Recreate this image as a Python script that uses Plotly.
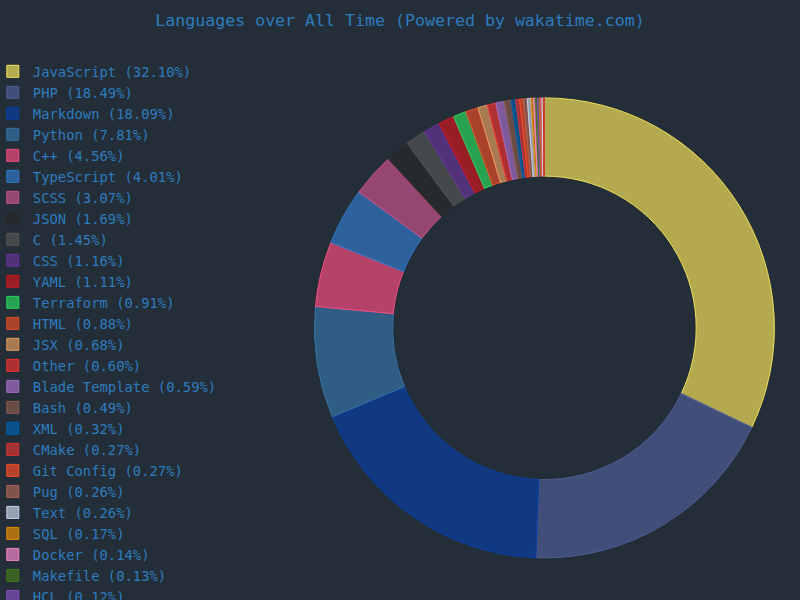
import plotly.graph_objects as go

languages = ["JavaScript", "PHP", "Markdown", "Python", "C++", "TypeScript", "SCSS", "JSON", "C",
             "CSS", "YAML", "Terraform", "HTML", "JSX", "Other", "Blade Template", "Bash", "XML",
             "CMake", "Git Config", "Pug", "Text", "SQL", "Docker", "Makefile", "HCL",
             "Java", "Shell", "INI", "Ruby"]
percents = [32.10, 18.49, 18.09, 7.81, 4.56, 4.01, 3.07, 1.69, 1.45,
            1.16, 1.11, 0.91, 0.88, 0.68, 0.60, 0.59, 0.49, 0.32,
            0.27, 0.27, 0.26, 0.26, 0.17, 0.14, 0.13, 0.12,
            0.11, 0.10, 0.09, 0.07]
base_colors = ["#f1e05a", "#4f5d95", "#083fa1", "#3572a5", "#f34b7d", "#3178c6", "#c6538c", "#292929", "#555555",
               "#663399", "#cb171e", "#2ad45c", "#e34c26", "#e19b5d", "#ea3232", "#a46dc7", "#895a4f", "#0060ac",
               "#da3434", "#f44d27", "#a86454", "#c6d1e8", "#e38c00", "#f485c9", "#427819", "#844fba",
               "#b07219", "#e05d6f", "#d1dbe0", "#cc342d"]

def rgba(h, a):
    h = h.lstrip("#")
    r, g, b = int(h[0:2], 16), int(h[2:4], 16), int(h[4:6], 16)
    return f"rgba({r},{g},{b},{a})"

labels = [f"{l} ({p:.2f}%)" for l, p in zip(languages, percents)]
fills = [rgba(c, 0.7) for c in base_colors]

fig = go.Figure(go.Pie(
    labels=labels,
    values=percents,
    sort=False,
    direction="clockwise",
    rotation=0,
    hole=0.66,
    textinfo="none",
    marker=dict(colors=fills, line=dict(color=base_colors, width=1)),
    domain=dict(x=[0.393, 0.968], y=[0.07, 0.837]),
))

bg = "#242e38"
txt = "#2e7cbf"
fig.update_layout(
    width=800, height=600,
    paper_bgcolor=bg, plot_bgcolor=bg,
    margin=dict(l=0, r=0, t=0, b=0, autoexpand=False),
    title=dict(text="Languages over All Time (Powered by wakatime.com)",
               x=0.5, xanchor="center", xref="container", y=0.967, yanchor="middle", yref="container",
               font=dict(family="DejaVu Sans Mono", size=16.6, color=txt)),
    font=dict(family="DejaVu Sans Mono", color=txt),
    legend=dict(xref="paper", yref="paper", x=-0.009, xanchor="left", y=0.907, yanchor="top",
                font=dict(family="DejaVu Sans Mono", size=13.85, color=txt),
                bgcolor="rgba(0,0,0,0)", borderwidth=0, maxheight=2000, traceorder="normal"),
    showlegend=True,
)

fig.write_html("out.html", config={"displayModeBar": False},
               post_script="document.body.style.margin='0';document.body.style.background='#242e38';")
